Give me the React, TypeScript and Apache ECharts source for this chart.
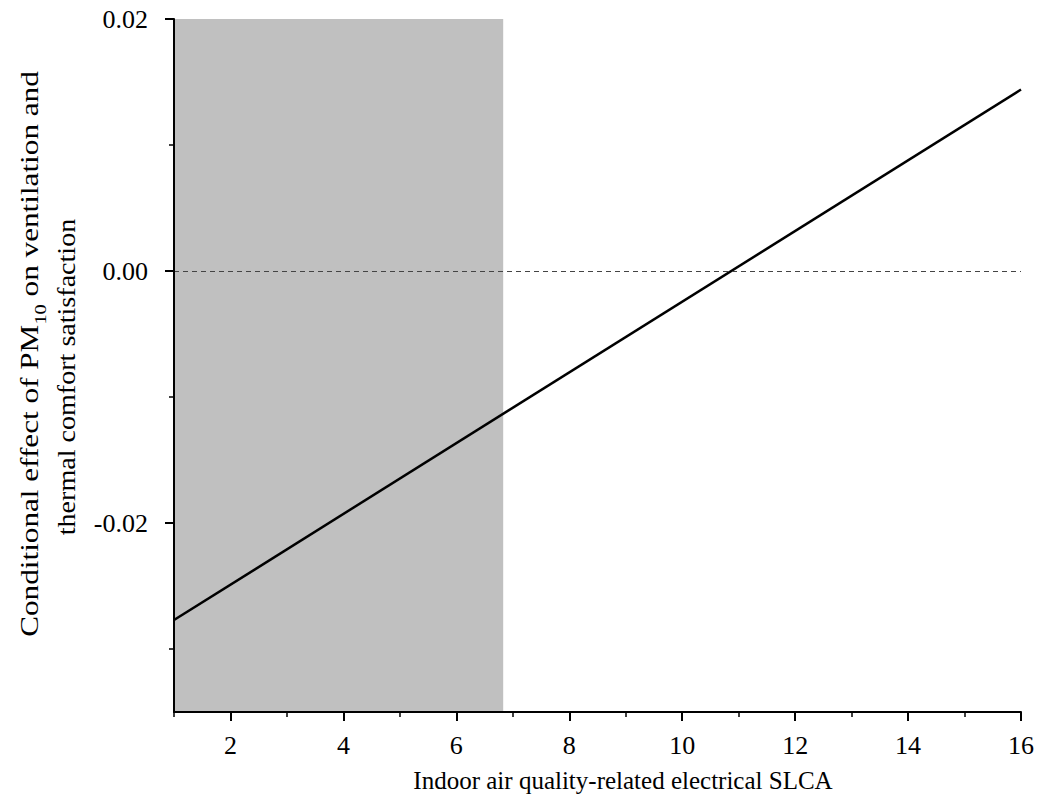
import React, { useEffect, useRef } from "react";
import * as echarts from "echarts";

const xValues = [1, 16];
const yValues = [-0.0277, 0.0144];
const xMajorTicks = [2, 4, 6, 8, 10, 12, 14, 16];
const xMinorTicks = [1, 3, 5, 7, 9, 11, 13, 15];
const yMajorTicks = [-0.02, 0, 0.02];
const yMinorTicks = [-0.03, -0.01, 0.01];
const shadeRange = [1, 6.83];
const referenceY = 0;
const xRange = [1, 16];
const yRange = [-0.035, 0.02];
const xTitle = "Indoor air quality-related electrical SLCA";
const yTitleLine1 = ["Conditional effect of PM", "10", " on ventilation and"];
const yTitleLine2 = "thermal comfort satisfaction";

const FONT = "'Liberation Serif', 'Times New Roman', serif";

export default function App() {
  const ref = useRef<HTMLDivElement>(null);
  useEffect(() => {
    document.body.style.margin = "0";
    const chart = echarts.init(ref.current!, null, { renderer: "svg" });
    const baseX = {
      type: "value" as const,
      min: xRange[0],
      max: xRange[1],
      position: "bottom" as const,
      z: 5,
      splitLine: { show: false },
    };
    const baseY = {
      type: "value" as const,
      min: yRange[0],
      max: yRange[1],
      position: "left" as const,
      z: 5,
      splitLine: { show: false },
    };
    const option = {
      animation: false,
      backgroundColor: "#fff",
      grid: { left: 174, right: 19, top: 19, bottom: 89 },
      xAxis: [
        {
          ...baseX,
          axisLine: { show: true, onZero: false, lineStyle: { color: "#000", width: 2 } },
          axisTick: { show: true, customValues: xMajorTicks, length: 9, lineStyle: { color: "#000", width: 2 } },
          axisLabel: {
            show: true,
            customValues: xMajorTicks,
            margin: 20,
            fontSize: 26,
            fontFamily: FONT,
            color: "#000",
          },
        },
        {
          ...baseX,
          axisLine: { show: false, onZero: false },
          axisTick: { show: true, customValues: xMinorTicks, length: 5, lineStyle: { color: "#000", width: 1.5 } },
          axisLabel: { show: false },
        },
      ],
      yAxis: [
        {
          ...baseY,
          axisLine: { show: true, onZero: false, lineStyle: { color: "#000", width: 2 } },
          axisTick: { show: true, customValues: yMajorTicks, length: 9, lineStyle: { color: "#000", width: 2 } },
          axisLabel: {
            show: true,
            customValues: yMajorTicks,
            margin: 26,
            fontSize: 26,
            fontFamily: FONT,
            color: "#000",
            formatter: (v: number) => v.toFixed(2),
          },
        },
        {
          ...baseY,
          axisLine: { show: false, onZero: false },
          axisTick: { show: true, customValues: yMinorTicks, length: 5, lineStyle: { color: "#000", width: 1.5 } },
          axisLabel: { show: false },
        },
      ],
      series: [
        {
          type: "line",
          xAxisIndex: 0,
          yAxisIndex: 0,
          data: xValues.map((x, i) => [x, yValues[i]]),
          symbol: "none",
          lineStyle: { color: "#000", width: 2.5 },
          z: 3,
          markArea: {
            silent: true,
            itemStyle: { color: "#c0c0c0", opacity: 1 },
            data: [[{ xAxis: shadeRange[0] }, { xAxis: shadeRange[1] }]],
          },
          markLine: {
            silent: true,
            symbol: "none",
            label: { show: false },
            lineStyle: { color: "#444", width: 1.2, type: [5, 4] },
            data: [{ yAxis: referenceY }],
          },
        },
      ],
      graphic: [
        {
          type: "text",
          x: 623,
          y: 780,
          style: {
            text: xTitle,
            fontSize: 25,
            fontFamily: FONT,
            fill: "#000",
            align: "center",
            verticalAlign: "middle",
          },
        },
        {
          type: "text",
          x: 29,
          y: 354,
          rotation: Math.PI / 2,
          scaleX: 1.2,
          style: {
            text: `{n|${yTitleLine1[0]}}{s|${yTitleLine1[1]}}{n|${yTitleLine1[2]}}`,
            fontSize: 26,
            fontFamily: FONT,
            align: "center",
            verticalAlign: "middle",
            fill: "#000",
            rich: {
              n: { fontSize: 26, fontFamily: FONT, fill: "#000", lineHeight: 40, verticalAlign: "middle" },
              s: { fontSize: 17, fontFamily: FONT, fill: "#000", lineHeight: 40, verticalAlign: "bottom" },
            },
          },
        },
        {
          type: "text",
          x: 66,
          y: 377,
          rotation: Math.PI / 2,
          scaleX: 1.08,
          style: {
            text: yTitleLine2,
            fontSize: 26,
            fontFamily: FONT,
            fill: "#000",
            align: "center",
            verticalAlign: "middle",
          },
        },
      ],
    };
    chart.setOption(option as any);
    return () => chart.dispose();
  }, []);
  return <div ref={ref} style={{ width: 1040, height: 801 }} />;
}
